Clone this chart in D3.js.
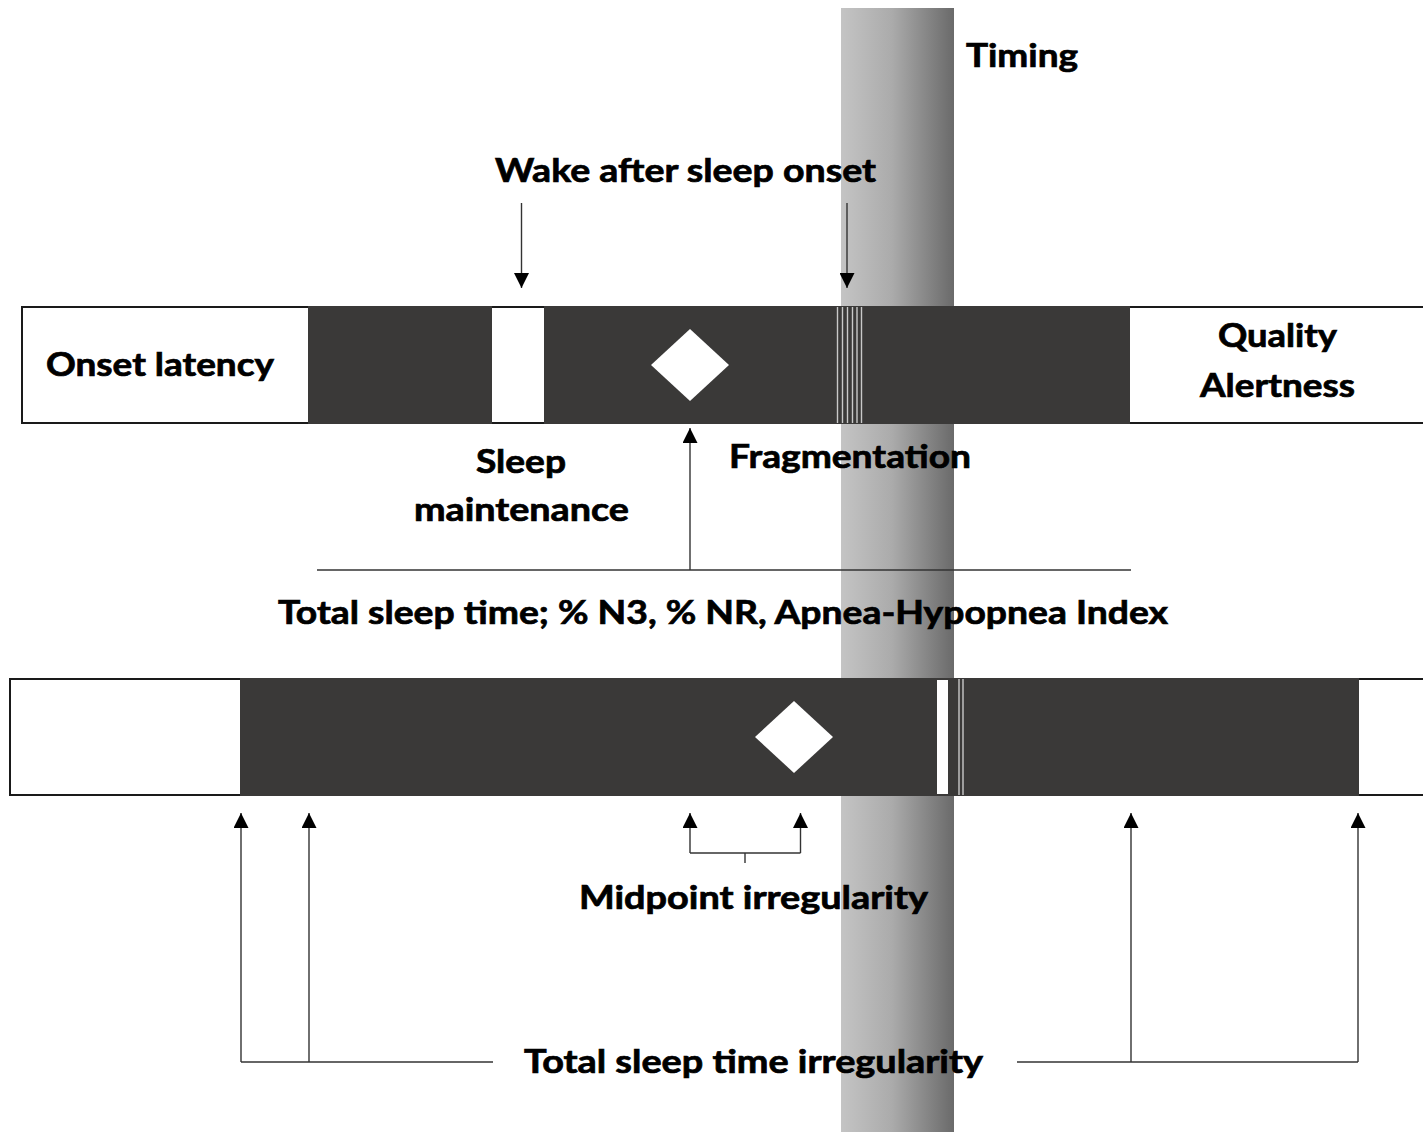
<!DOCTYPE html>
<html>
<head>
<meta charset="utf-8">
<script src="https://cdn.jsdelivr.net/npm/d3@7"></script>
<style>
  html, body { margin: 0; padding: 0; background: #fff; }
  svg { display: block; }
</style>
</head>
<body>
<div id="chart"></div>
<script>
// night timeline, positions along the horizontal axis (px units of the figure)
var topBox = [22, 1423];
var topSleep = [[308, 492], [544, 1130]];
var topFragments = [837.5, 842.5, 847.5, 852.5, 857, 861.5];
var topMidpoint = 690;

var bottomBox = [10, 1423];
var bottomSleep = [[240, 1359]];
var bottomWake = [[937, 948]];
var bottomFragments = [959, 963];
var bottomMidpoint = 794;

var timingBand = [841, 954];

// arrows: [x, from y, to y]
var downArrows = [[521.5, 203, 288], [847, 203, 288]];
var upArrows = [[690, 570, 428], [690, 853, 813], [800.5, 853, 813],
                [241, 1062, 813], [309, 1062, 813], [1131, 1062, 813], [1358, 1062, 813]];
// plain lines: [x1, y1, x2, y2]
var plainLines = [[317, 570, 1131, 570], [690, 853, 800.5, 853], [745, 853, 745, 863],
                  [241, 1062, 493, 1062], [1017, 1062, 1358, 1062]];

// labels: text, x (left), baseline y, width
var labels = [
  ["Timing", 966, 67, 112],
  ["Wake after sleep onset", 495, 182, 381],
  ["Onset latency", 46, 376, 228],
  ["Quality", 1218, 347, 119],
  ["Alertness", 1200, 397, 155],
  ["Sleep", 476, 473, 90],
  ["maintenance", 414, 521, 215],
  ["Fragmentation", 729, 468, 242],
  ["Total sleep time; % N3, % NR, Apnea-Hypopnea Index", 278, 624, 890],
  ["Midpoint irregularity", 579, 909, 349],
  ["Total sleep time irregularity", 524, 1073, 459]
];

var width = 1423, height = 1132;
var dark = "#3a3938";

var x = d3.scaleLinear().domain([0, 1423]).range([0, width]);
var y = d3.scaleLinear().domain([0, 1132]).range([0, height]);

var svg = d3.select("#chart").append("svg")
  .attr("width", width).attr("height", height);

var defs = svg.append("defs");
var grad = defs.append("linearGradient").attr("id", "timingGrad")
  .attr("x1", "0%").attr("x2", "100%").attr("y1", "0%").attr("y2", "0%");
grad.append("stop").attr("offset", "0%").attr("stop-color", "#c4c4c4");
grad.append("stop").attr("offset", "45%").attr("stop-color", "#ababab");
grad.append("stop").attr("offset", "100%").attr("stop-color", "#6a6a6a");

defs.append("marker").attr("id", "head")
  .attr("viewBox", "0 0 10 10").attr("refX", 10).attr("refY", 5)
  .attr("markerUnits", "userSpaceOnUse")
  .attr("markerWidth", 15).attr("markerHeight", 15)
  .attr("orient", "auto")
  .append("path").attr("d", "M0,0 L10,5 L0,10 Z").attr("fill", "#000");

// timing band behind everything
svg.append("rect")
  .attr("x", x(timingBand[0])).attr("y", y(8))
  .attr("width", x(timingBand[1]) - x(timingBand[0])).attr("height", y(1132) - y(8))
  .attr("fill", "url(#timingGrad)");

function drawBar(box, sleep, wake, frags, mid, y0, y1, fragColor) {
  var g = svg.append("g");
  g.append("rect")
    .attr("x", x(box[0])).attr("y", y(y0))
    .attr("width", x(box[1]) - x(box[0]) + 4).attr("height", y(y1) - y(y0))
    .attr("fill", "#fff").attr("stroke", "#1a1a1a").attr("stroke-width", 2);
  g.selectAll("rect.sleep").data(sleep).enter().append("rect")
    .attr("class", "sleep")
    .attr("x", function(d) { return x(d[0]); })
    .attr("y", y(y0 - 1))
    .attr("width", function(d) { return x(d[1]) - x(d[0]); })
    .attr("height", y(y1 + 1) - y(y0 - 1))
    .attr("fill", dark);
  g.selectAll("rect.wake").data(wake).enter().append("rect")
    .attr("class", "wake")
    .attr("x", function(d) { return x(d[0]); })
    .attr("y", y(y0 + 1))
    .attr("width", function(d) { return x(d[1]) - x(d[0]); })
    .attr("height", y(y1 - 1) - y(y0 + 1))
    .attr("fill", "#fff");
  g.selectAll("line.frag").data(frags).enter().append("line")
    .attr("class", "frag")
    .attr("x1", function(d) { return x(d); }).attr("x2", function(d) { return x(d); })
    .attr("y1", y(y0)).attr("y2", y(y1))
    .attr("stroke", fragColor).attr("stroke-width", 1.4);
  var cy = (y(y0) + y(y1)) / 2;
  g.append("path")
    .attr("d", "M" + (x(mid) - 39) + "," + cy + " L" + x(mid) + "," + (cy - 36) +
      " L" + (x(mid) + 39) + "," + cy + " L" + x(mid) + "," + (cy + 36) + " Z")
    .attr("fill", "#fff");
}

drawBar(topBox, topSleep, [], topFragments, topMidpoint, 307, 423, "#c9c9c9");
drawBar(bottomBox, bottomSleep, bottomWake, bottomFragments, bottomMidpoint, 679, 795, "#c9c9c9");

// connector lines
svg.selectAll("line.plain").data(plainLines).enter().append("line")
  .attr("class", "plain")
  .attr("x1", function(d) { return x(d[0]); }).attr("y1", function(d) { return y(d[1]); })
  .attr("x2", function(d) { return x(d[2]); }).attr("y2", function(d) { return y(d[3]); })
  .attr("stroke", "#333").attr("stroke-width", 1.4);

svg.selectAll("line.arrow").data(downArrows.concat(upArrows)).enter().append("line")
  .attr("class", "arrow")
  .attr("x1", function(d) { return x(d[0]); }).attr("y1", function(d) { return y(d[1]); })
  .attr("x2", function(d) { return x(d[0]); }).attr("y2", function(d) { return y(d[2]); })
  .attr("stroke", "#333").attr("stroke-width", 1.4)
  .attr("marker-end", "url(#head)");

// labels (thin stroke to get closer to the heavy bold of the original)
svg.selectAll("text.lbl").data(labels).enter().append("text")
  .attr("class", "lbl")
  .attr("x", function(d) { return x(d[1]); })
  .attr("y", function(d) { return y(d[2]); })
  .attr("textLength", function(d) { return d[3]; })
  .attr("lengthAdjust", "spacingAndGlyphs")
  .attr("font-family", "Lato, 'Open Sans', sans-serif")
  .attr("font-weight", "bold")
  .attr("font-size", "32px")
  .attr("fill", "#000")
  .attr("stroke", "#000")
  .attr("stroke-width", 0.7)
  .text(function(d) { return d[0]; });
</script>
</body>
</html>
